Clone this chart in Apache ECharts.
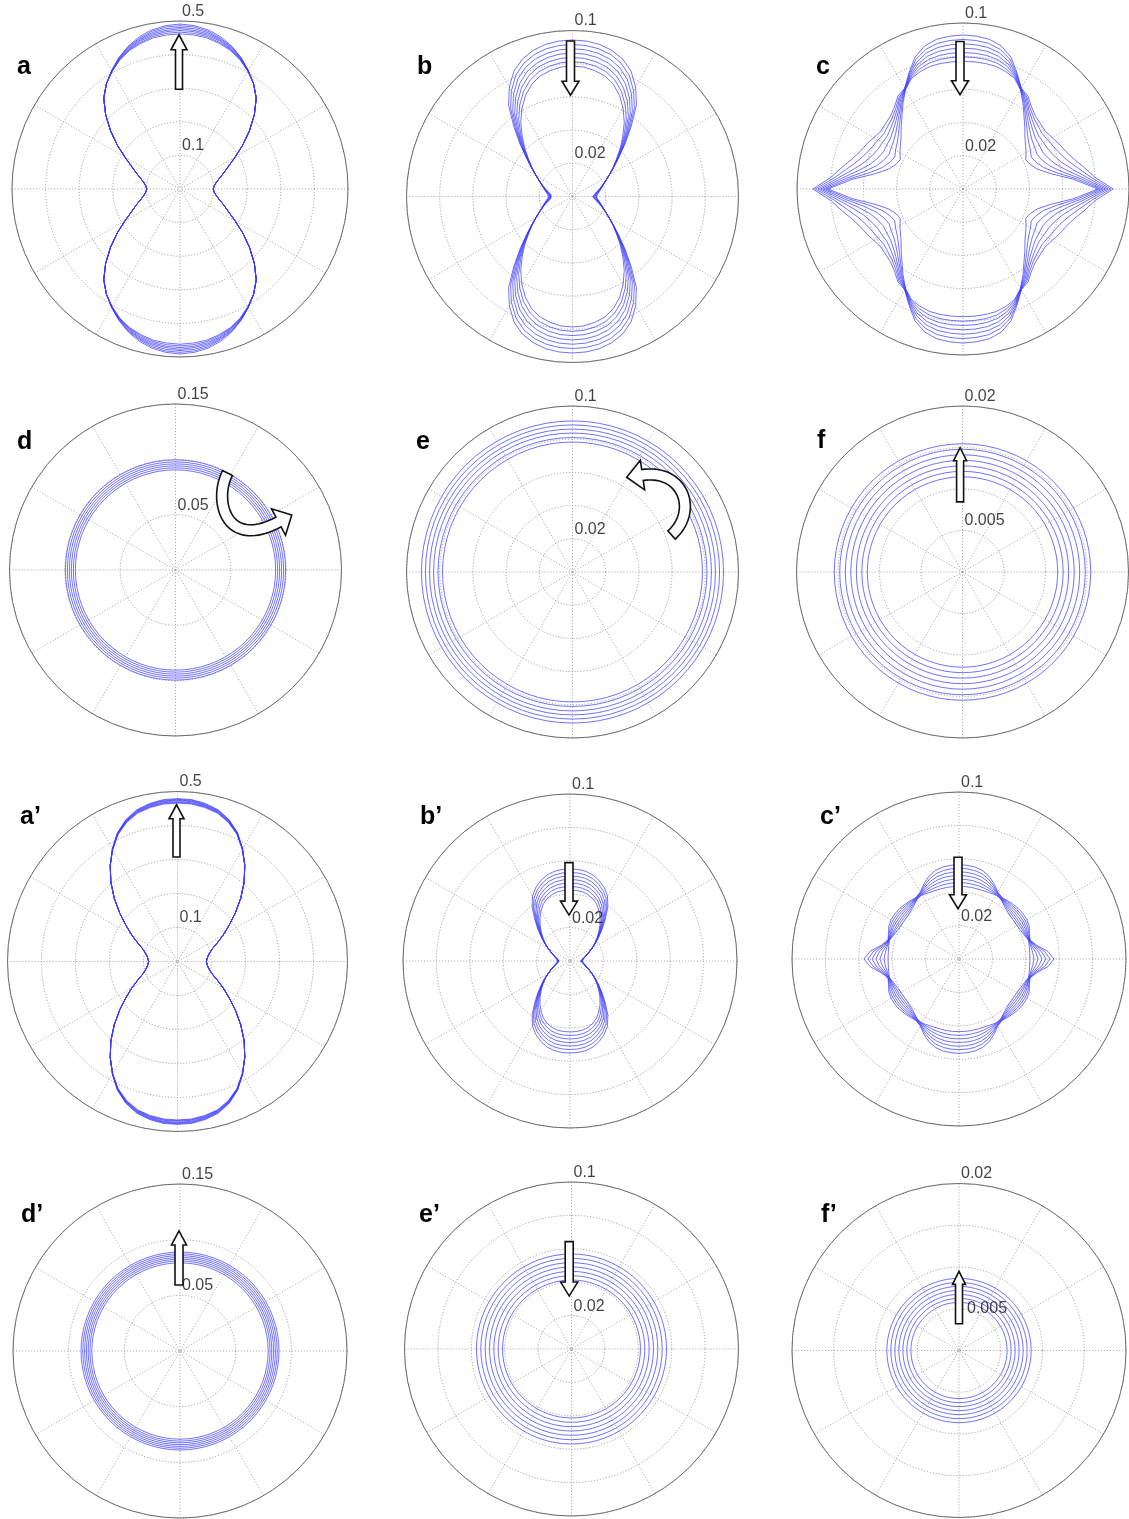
<!DOCTYPE html>
<html>
<head>
<meta charset="utf-8">
<script src="https://cdn.jsdelivr.net/npm/echarts@6/dist/echarts.min.js"></script>
<style>
  html, body { margin: 0; padding: 0; background: #fff; }
  #chart { width: 1129px; height: 1519px; }
</style>
</head>
<body>
<div id="chart"></div>
<script>
// Polar angles (degrees) of the quadrant samples; every pattern is symmetric
// about both axes, so radii are listed for 0..90 degrees only.
const quadrantAngles = [0, 5, 10, 15, 20, 25, 30, 35, 40, 45, 50, 55, 60, 65, 70, 75, 80, 85, 90];

// Panel a: seven time steps
const panelA = [
  [0.099,0.102,0.109,0.121,0.138,0.159,0.189,0.228,0.270,0.313,0.353,0.382,0.407,0.431,0.452,0.469,0.481,0.488,0.491],
  [0.099,0.102,0.109,0.121,0.138,0.159,0.189,0.228,0.270,0.313,0.353,0.382,0.407,0.430,0.450,0.465,0.477,0.484,0.486],
  [0.099,0.102,0.109,0.121,0.138,0.159,0.189,0.228,0.270,0.313,0.353,0.382,0.406,0.429,0.448,0.462,0.473,0.479,0.481],
  [0.099,0.102,0.109,0.121,0.138,0.159,0.189,0.228,0.270,0.313,0.353,0.382,0.406,0.428,0.445,0.459,0.469,0.474,0.477],
  [0.099,0.102,0.109,0.121,0.138,0.159,0.189,0.228,0.270,0.313,0.353,0.382,0.405,0.426,0.443,0.456,0.465,0.470,0.472],
  [0.099,0.102,0.109,0.121,0.138,0.159,0.189,0.228,0.270,0.313,0.353,0.382,0.405,0.425,0.441,0.452,0.461,0.465,0.467],
  [0.099,0.102,0.109,0.121,0.138,0.159,0.189,0.228,0.270,0.313,0.353,0.382,0.404,0.424,0.439,0.449,0.457,0.460,0.462]
];

// Panel b
const panelB = [
  [0.0121,0.0130,0.0145,0.0166,0.0190,0.0218,0.0254,0.0302,0.0363,0.0447,0.0550,0.0671,0.0761,0.0834,0.0882,0.0912,0.0931,0.0940,0.0943],
  [0.0125,0.0133,0.0148,0.0168,0.0191,0.0218,0.0254,0.0301,0.0360,0.0440,0.0537,0.0650,0.0736,0.0807,0.0855,0.0886,0.0904,0.0913,0.0916],
  [0.0129,0.0137,0.0151,0.0170,0.0192,0.0219,0.0254,0.0300,0.0357,0.0433,0.0524,0.0628,0.0711,0.0780,0.0828,0.0859,0.0877,0.0887,0.0890],
  [0.0133,0.0141,0.0154,0.0172,0.0193,0.0219,0.0254,0.0299,0.0354,0.0426,0.0511,0.0607,0.0686,0.0752,0.0801,0.0832,0.0851,0.0861,0.0864],
  [0.0137,0.0144,0.0157,0.0174,0.0194,0.0220,0.0254,0.0298,0.0351,0.0419,0.0498,0.0586,0.0661,0.0725,0.0773,0.0806,0.0824,0.0835,0.0838],
  [0.0141,0.0148,0.0160,0.0176,0.0195,0.0220,0.0254,0.0297,0.0347,0.0412,0.0484,0.0565,0.0636,0.0698,0.0746,0.0779,0.0797,0.0809,0.0812],
  [0.0145,0.0151,0.0163,0.0178,0.0196,0.0221,0.0254,0.0296,0.0344,0.0405,0.0471,0.0544,0.0610,0.0671,0.0719,0.0752,0.0770,0.0783,0.0786]
];

// Panel c
const panelC = [
  [0.0904,0.0799,0.0743,0.0693,0.0660,0.0640,0.0620,0.0606,0.0610,0.0619,0.0643,0.0683,0.0702,0.0771,0.0845,0.0892,0.0916,0.0924,0.0928],
  [0.0889,0.0778,0.0708,0.0655,0.0622,0.0603,0.0590,0.0582,0.0590,0.0604,0.0631,0.0673,0.0700,0.0765,0.0830,0.0870,0.0891,0.0898,0.0901],
  [0.0873,0.0756,0.0673,0.0616,0.0584,0.0566,0.0560,0.0557,0.0569,0.0589,0.0619,0.0665,0.0699,0.0759,0.0814,0.0849,0.0866,0.0872,0.0875],
  [0.0858,0.0734,0.0639,0.0578,0.0546,0.0529,0.0530,0.0533,0.0549,0.0573,0.0608,0.0656,0.0697,0.0753,0.0799,0.0828,0.0842,0.0847,0.0848],
  [0.0843,0.0712,0.0604,0.0540,0.0508,0.0492,0.0499,0.0509,0.0528,0.0558,0.0596,0.0647,0.0695,0.0747,0.0784,0.0807,0.0817,0.0821,0.0822],
  [0.0828,0.0690,0.0570,0.0502,0.0469,0.0454,0.0469,0.0484,0.0508,0.0542,0.0584,0.0639,0.0694,0.0741,0.0768,0.0786,0.0793,0.0795,0.0796],
  [0.0813,0.0669,0.0535,0.0464,0.0431,0.0417,0.0439,0.0460,0.0487,0.0527,0.0572,0.0630,0.0692,0.0735,0.0753,0.0765,0.0768,0.0769,0.0769]
];

// Panel a'
const panelA2 = [
  [0.085,0.087,0.091,0.098,0.109,0.129,0.155,0.185,0.222,0.263,0.305,0.345,0.383,0.418,0.444,0.462,0.472,0.478,0.479],
  [0.085,0.087,0.091,0.098,0.109,0.129,0.155,0.185,0.222,0.263,0.305,0.345,0.383,0.417,0.443,0.460,0.470,0.476,0.477],
  [0.085,0.087,0.091,0.098,0.109,0.129,0.155,0.185,0.222,0.263,0.305,0.345,0.382,0.416,0.441,0.459,0.468,0.474,0.475],
  [0.085,0.087,0.091,0.098,0.109,0.129,0.155,0.185,0.222,0.263,0.305,0.345,0.382,0.416,0.440,0.457,0.466,0.472,0.473],
  [0.085,0.087,0.091,0.098,0.109,0.129,0.155,0.185,0.222,0.263,0.305,0.345,0.382,0.415,0.439,0.455,0.464,0.469,0.470],
  [0.085,0.087,0.091,0.098,0.109,0.129,0.155,0.185,0.222,0.263,0.305,0.345,0.381,0.414,0.437,0.454,0.462,0.467,0.468],
  [0.085,0.087,0.091,0.098,0.109,0.129,0.155,0.185,0.222,0.263,0.305,0.345,0.381,0.413,0.436,0.452,0.460,0.465,0.466]
];

// Panel b'
const panelB2 = [
  [0.0063,0.0069,0.0078,0.0090,0.0105,0.0126,0.0153,0.0186,0.0225,0.0273,0.0329,0.0395,0.0449,0.0485,0.0512,0.0533,0.0545,0.0550,0.0551],
  [0.0064,0.0070,0.0079,0.0091,0.0105,0.0126,0.0153,0.0185,0.0222,0.0268,0.0321,0.0382,0.0432,0.0467,0.0493,0.0513,0.0524,0.0529,0.0530],
  [0.0066,0.0071,0.0080,0.0091,0.0106,0.0126,0.0152,0.0184,0.0220,0.0263,0.0312,0.0368,0.0415,0.0449,0.0474,0.0493,0.0504,0.0508,0.0509],
  [0.0067,0.0073,0.0081,0.0092,0.0106,0.0127,0.0152,0.0183,0.0217,0.0258,0.0304,0.0355,0.0398,0.0431,0.0455,0.0473,0.0483,0.0487,0.0488],
  [0.0069,0.0074,0.0082,0.0093,0.0107,0.0127,0.0152,0.0182,0.0215,0.0253,0.0295,0.0341,0.0381,0.0413,0.0436,0.0453,0.0462,0.0466,0.0467],
  [0.0070,0.0075,0.0083,0.0094,0.0107,0.0127,0.0152,0.0181,0.0212,0.0248,0.0287,0.0328,0.0364,0.0395,0.0417,0.0433,0.0442,0.0445,0.0446],
  [0.0072,0.0077,0.0084,0.0095,0.0108,0.0127,0.0151,0.0180,0.0210,0.0243,0.0278,0.0314,0.0347,0.0377,0.0398,0.0413,0.0421,0.0424,0.0425]
];

// Panel c'
const panelC2 = [
  [0.0569,0.0533,0.0473,0.0440,0.0449,0.0464,0.0470,0.0470,0.0467,0.0461,0.0455,0.0449,0.0464,0.0497,0.0527,0.0548,0.0559,0.0563,0.0565],
  [0.0545,0.0515,0.0466,0.0439,0.0444,0.0455,0.0459,0.0458,0.0456,0.0452,0.0449,0.0447,0.0460,0.0487,0.0511,0.0529,0.0538,0.0542,0.0543],
  [0.0521,0.0497,0.0458,0.0437,0.0438,0.0445,0.0447,0.0447,0.0445,0.0443,0.0443,0.0445,0.0457,0.0477,0.0496,0.0510,0.0517,0.0521,0.0522],
  [0.0497,0.0479,0.0451,0.0436,0.0433,0.0436,0.0436,0.0435,0.0434,0.0434,0.0437,0.0443,0.0454,0.0467,0.0481,0.0491,0.0497,0.0499,0.0500],
  [0.0473,0.0461,0.0443,0.0434,0.0427,0.0426,0.0424,0.0423,0.0423,0.0425,0.0431,0.0441,0.0450,0.0457,0.0465,0.0472,0.0476,0.0478,0.0478],
  [0.0449,0.0443,0.0436,0.0433,0.0422,0.0417,0.0413,0.0412,0.0412,0.0416,0.0425,0.0439,0.0447,0.0447,0.0450,0.0453,0.0455,0.0457,0.0457],
  [0.0425,0.0425,0.0428,0.0431,0.0416,0.0407,0.0401,0.0400,0.0401,0.0407,0.0419,0.0437,0.0443,0.0437,0.0434,0.0434,0.0435,0.0435,0.0435]
];

// Circular patterns: radius of each time step
const ringsD  = [0.0995, 0.0977, 0.0959, 0.0941, 0.0923, 0.0905];
const ringsE  = [0.0910, 0.0886, 0.0861, 0.0837, 0.0810, 0.0783];
const ringsF  = [0.01545, 0.01479, 0.01412, 0.01346, 0.01279, 0.01213, 0.01147];
const ringsD2 = [0.0889, 0.0873, 0.0857, 0.0841, 0.0825, 0.0809, 0.0792];
const ringsE2 = [0.0569, 0.0543, 0.0517, 0.0491, 0.0465, 0.0439, 0.0413];
const ringsF2 = [0.00864, 0.00816, 0.00768, 0.00720, 0.00672, 0.00624, 0.00576];

// Radial tick labels (innermost and outermost grid circle)
const ticksA = [0.1, 0.5];
const ticksB = [0.02, 0.1];
const ticksC = [0.02, 0.1];
const ticksD = [0.05, 0.15];
const ticksE = [0.02, 0.1];
const ticksF = [0.005, 0.02];
const ticksA2 = [0.1, 0.5];
const ticksB2 = [0.02, 0.1];
const ticksC2 = [0.02, 0.1];
const ticksD2 = [0.05, 0.15];
const ticksE2 = [0.02, 0.1];
const ticksF2 = [0.005, 0.02];

// Panel layout: centre/radius in px, radial range, grid step, trend arrow (radial values)
const panels = [
  { name: 'a',  cx: 180,   cy: 189,    R: 168, max: 0.5,  step: 0.1,   ticks: ticksA,  curves: panelA,
    letter: [17, 74],  arrow: { tail: 0.297,  tip: 0.459,  dx: -1,   shaft: 7, head: 16, len: 15 } },
  { name: 'b',  cx: 572.5, cy: 196.5,  R: 166, max: 0.1,  step: 0.02,  ticks: ticksB,  curves: panelB,
    letter: [417, 74], arrow: { tail: 0.0937, tip: 0.061,  dx: -2,   shaft: 8, head: 17, len: 14 } },
  { name: 'c',  cx: 963,   cy: 189,    R: 166, max: 0.1,  step: 0.02,  ticks: ticksC,  curves: panelC,
    letter: [816, 74], arrow: { tail: 0.0889, tip: 0.0568, dx: -3,   shaft: 8, head: 17, len: 14 } },
  { name: 'd',  cx: 175.5, cy: 570,    R: 166, max: 0.15, step: 0.05,  ticks: ticksD,  circles: ringsD,
    letter: [17, 449], bend: { pts: [[52, -97], [38, -70], [50, -20], [103, -48]], w: 11, head: 30, len: 15 } },
  { name: 'e',  cx: 572.5, cy: 572,    R: 166, max: 0.1,  step: 0.02,  ticks: ticksE,  circles: ringsE,
    letter: [416, 449], bend: { pts: [[99, -37], [125, -60], [112, -103], [70, -97]], w: 11, head: 30, len: 16 } },
  { name: 'f',  cx: 962.5, cy: 572,    R: 166, max: 0.02, step: 0.005, ticks: ticksF,  circles: ringsF,
    letter: [817, 448], arrow: { tail: 0.00845, tip: 0.01497, dx: -2.4, shaft: 7, head: 13, len: 13 } },
  { name: 'a\u2019', cx: 177.5, cy: 961.5, R: 170, max: 0.5, step: 0.1, ticks: ticksA2, curves: panelA2,
    letter: [20, 824], arrow: { tail: 0.3075, tip: 0.461,  dx: -1,   shaft: 7, head: 15, len: 14 } },
  { name: 'b\u2019', cx: 570, cy: 961, R: 167, max: 0.1, step: 0.02, ticks: ticksB2, curves: panelB2,
    letter: [420, 824], arrow: { tail: 0.0589, tip: 0.0275, dx: -1,   shaft: 8, head: 17, len: 14 } },
  { name: 'c\u2019', cx: 959, cy: 959, R: 167, max: 0.1, step: 0.02, ticks: ticksC2, curves: panelC2,
    letter: [820, 824], arrow: { tail: 0.0609, tip: 0.0301, dx: -1,   shaft: 8, head: 17, len: 14 } },
  { name: 'd\u2019', cx: 180, cy: 1351, R: 167, max: 0.15, step: 0.05, ticks: ticksD2, circles: ringsD2,
    letter: [21, 1222], arrow: { tail: 0.0593, tip: 0.1078, dx: -1,   shaft: 8, head: 15, len: 14 } },
  { name: 'e\u2019', cx: 571.5, cy: 1349, R: 167, max: 0.1, step: 0.02, ticks: ticksE2, circles: ringsE2,
    letter: [419, 1222], arrow: { tail: 0.0643, tip: 0.0317, dx: -2.3, shaft: 8, head: 17, len: 14 } },
  { name: 'f\u2019', cx: 959, cy: 1350.5, R: 167, max: 0.02, step: 0.005, ticks: ticksF2, circles: ringsF2,
    letter: [821, 1222], arrow: { tail: 0.0032, tip: 0.00948, dx: 0, shaft: 7, head: 13, len: 13 },
    tickShift: { 0: [8, 9] } }
];

const CURVE = '#3b3bff';
const FONT = '"Liberation Sans", Arial, Helvetica, sans-serif';

// Unfold a 0..90 degree profile into a closed loop (mirror about both axes)
function closedLoop(q) {
  const pts = [];
  for (let a = 0; a <= 360; a += 5) {
    const t = a <= 90 ? a : a <= 180 ? 180 - a : a <= 270 ? a - 180 : 360 - a;
    pts.push([q[quadrantAngles.indexOf(t)], a]);
  }
  return pts;
}
function circleLoop(r) {
  const pts = [];
  for (let a = 0; a <= 360; a += 5) pts.push([r, a]);
  return pts;
}

// Straight hollow arrow along the vertical axis
function straightArrow(p) {
  const a = p.arrow, k = p.R / p.max, x = p.cx + a.dx;
  const yT = p.cy - a.tail * k, yP = p.cy - a.tip * k;
  const dir = yP < yT ? 1 : -1;          // 1: pointing up
  const yB = yP + dir * a.len;
  const s = a.shaft / 2, h = a.head / 2;
  return [[x - s, yT], [x + s, yT], [x + s, yB], [x + h, yB], [x, yP], [x - h, yB], [x - s, yB]];
}

// Curved hollow arrow: band around a cubic centre line with a head at the end
function bentArrow(p) {
  const b = p.bend, P = b.pts;
  const bez = (t, k) => { const u = 1 - t; return u*u*u*P[0][k] + 3*u*u*t*P[1][k] + 3*u*t*t*P[2][k] + t*t*t*P[3][k]; };
  const der = (t, k) => { const u = 1 - t; return 3*u*u*(P[1][k]-P[0][k]) + 6*u*t*(P[2][k]-P[1][k]) + 3*t*t*(P[3][k]-P[2][k]); };
  const left = [], right = [];
  const N = 40;
  for (let i = 0; i <= N; i++) {
    const t = i / N;
    const x = bez(t, 0), y = bez(t, 1);
    const dx = der(t, 0), dy = der(t, 1), L = Math.hypot(dx, dy);
    const nx = -dy / L, ny = dx / L;
    left.push([p.cx + x + nx * b.w / 2, p.cy + y + ny * b.w / 2]);
    right.push([p.cx + x - nx * b.w / 2, p.cy + y - ny * b.w / 2]);
  }
  const dx = der(1, 0), dy = der(1, 1), L = Math.hypot(dx, dy);
  const tx = dx / L, ty = dy / L, nx = -ty, ny = tx;
  const ex = p.cx + P[3][0], ey = p.cy + P[3][1];
  const head = [
    [ex + nx * b.head / 2, ey + ny * b.head / 2],
    [ex + tx * b.len, ey + ty * b.len],
    [ex - nx * b.head / 2, ey - ny * b.head / 2]
  ];
  return left.concat(head, right.reverse());
}

const polar = [], angleAxis = [], radiusAxis = [], series = [], graphic = [];

panels.forEach((p, i) => {
  polar.push({ center: [p.cx, p.cy], radius: p.R });
  angleAxis.push({
    polarIndex: i, type: 'value', min: 0, max: 360, interval: 30,
    startAngle: 0, clockwise: false,
    axisLine: { show: true, lineStyle: { color: '#6e6e6e', width: 1 } },
    axisTick: { show: false }, axisLabel: { show: false },
    splitLine: { show: true, lineStyle: { color: '#9c9c9c', width: 0.8, type: [1.2, 1.8] } }
  });
  radiusAxis.push({
    polarIndex: i, type: 'value', min: 0, max: p.max, interval: p.step,
    axisLine: { show: false }, axisTick: { show: false }, axisLabel: { show: false },
    splitLine: { show: true, lineStyle: { color: '#8e8e8e', width: 0.8, type: [1.2, 1.8] } }
  });

  const loops = p.curves ? p.curves.map(closedLoop) : p.circles.map(circleLoop);
  loops.forEach(d => series.push({
    type: 'line', coordinateSystem: 'polar', polarIndex: i, data: d,
    symbol: 'none', smooth: false, silent: true, z: 3,
    lineStyle: { color: CURVE, width: 0.8, opacity: 0.9 }
  }));

  series.push({
    type: 'scatter', coordinateSystem: 'polar', polarIndex: i, silent: true, z: 6,
    symbolSize: 1, itemStyle: { color: 'rgba(0,0,0,0)' },
    data: p.ticks.map((v, j) => {
      const item = { value: [v, 90] };
      if (p.tickShift && p.tickShift[j]) item.label = { offset: p.tickShift[j] };
      return item;
    }),
    label: {
      show: true, position: 'top', distance: 1, align: 'left', offset: [2, 0],
      color: '#111', fontSize: 16, fontFamily: FONT,
      formatter: q => String(q.value[0])
    }
  });

  graphic.push({
    type: 'text', x: p.letter[0], y: p.letter[1] + 6, z: 20,
    style: { text: p.name, font: 'bold 25px ' + FONT, fill: '#000', align: 'left', verticalAlign: 'bottom' }
  });

  if (p.arrow) {
    graphic.push({
      type: 'polygon', z: 15, shape: { points: straightArrow(p) },
      style: { fill: '#fff', stroke: '#111', lineWidth: 1.6, lineJoin: 'miter' }
    });
  }
  if (p.bend) {
    graphic.push({
      type: 'polygon', z: 15, shape: { points: bentArrow(p) },
      style: { fill: '#fff', stroke: '#111', lineWidth: 1.6, lineJoin: 'miter' }
    });
  }
});

const chart = echarts.init(document.getElementById('chart'), null, { renderer: 'canvas' });
chart.setOption({
  backgroundColor: '#fff',
  animation: false,
  polar, angleAxis, radiusAxis, series, graphic
});
</script>
</body>
</html>
